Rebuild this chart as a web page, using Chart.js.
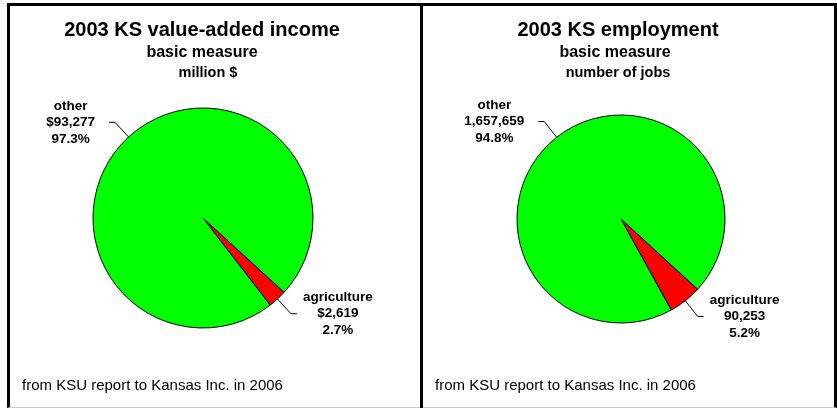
<!DOCTYPE html>
<html>
<head>
<meta charset="utf-8">
<title>2003 KS basic measure</title>
<script src="https://cdn.jsdelivr.net/npm/chart.js@4.4.0/dist/chart.umd.min.js"></script>
<style>
    html, body { margin: 0; padding: 0; background: #fff; }
    body { width: 837px; height: 408px; position: relative; overflow: hidden; }
    .frame { position: absolute; left: 7px; top: 3px; width: 824px; height: 401px; border: 3px solid #000; border-bottom: 1px solid #ccc; }
    .divider { position: absolute; left: 420px; top: 3px; width: 3px; height: 405px; background: #000; }
    canvas { position: absolute; top: 6px; }
    #incomeChart { left: 10px; }
    #jobsChart { left: 423px; }
</style>
</head>
<body>
<div class="frame"></div>
<div class="divider"></div>
<canvas id="incomeChart" width="410" height="400"></canvas>
<canvas id="jobsChart" width="411" height="400"></canvas>

<script>
// Dados (2003, Kansas)
const categories = ['agriculture', 'other'];
const incomeValues = [2619, 93277];      // million $
const jobValues = [90253, 1657659];      // number of jobs
const sliceColors = ['#ff0000', '#00ff00'];

const incomeTitles = ['2003 KS value-added income', 'basic measure', 'million $'];
const jobTitles = ['2003 KS employment', 'basic measure', 'number of jobs'];
const footerText = 'from KSU report to Kansas Inc. in 2006';

const FONT = 'Arial, "Liberation Sans", sans-serif';

// Títulos e rodapé desenhados no canvas
const panelTextPlugin = {
    id: 'panelText',
    afterDraw(chart, args, opts) {
        const ctx = chart.ctx;
        ctx.save();
        ctx.fillStyle = '#000';
        ctx.textBaseline = 'middle';
        opts.items.forEach(item => {
            ctx.font = item.font;
            ctx.textAlign = item.align || 'center';
            ctx.fillText(item.text, item.x, item.y);
        });
        ctx.restore();
    }
};

// Rótulos com linha de chamada para cada fatia
const calloutPlugin = {
    id: 'callouts',
    afterDatasetsDraw(chart, args, opts) {
        const ctx = chart.ctx;
        const meta = chart.getDatasetMeta(0);
        const values = chart.data.datasets[0].data;
        const total = values.reduce((a, b) => a + b, 0);

        meta.data.forEach((arc, i) => {
            const p = arc.getProps(['x', 'y', 'startAngle', 'endAngle', 'outerRadius'], true);
            const mid = (p.startAngle + p.endAngle) / 2;
            const cos = Math.cos(mid);
            const sin = Math.sin(mid);
            const x0 = p.x + cos * p.outerRadius;
            const y0 = p.y + sin * p.outerRadius;
            const x1 = p.x + cos * (p.outerRadius + 20);
            const y1 = p.y + sin * (p.outerRadius + 20);
            const dir = cos >= 0 ? 1 : -1;
            const x2 = x1 + dir * 6;

            ctx.save();
            ctx.strokeStyle = '#000';
            ctx.lineWidth = 1;
            ctx.beginPath();
            ctx.moveTo(x0, y0);
            ctx.lineTo(x1, y1);
            ctx.lineTo(x2, y1);
            ctx.stroke();

            const lines = [
                chart.data.labels[i],
                opts.prefix + values[i].toLocaleString('en-US'),
                (values[i] / total * 100).toFixed(1) + '%'
            ];
            ctx.font = 'bold 13.5px ' + FONT;
            const w = Math.max(...lines.map(t => ctx.measureText(t).width));
            const cx = dir > 0 ? x2 + 6 + w / 2 : x2 - 14 - w / 2;
            ctx.fillStyle = '#000';
            ctx.textAlign = 'center';
            ctx.textBaseline = 'middle';
            lines.forEach((t, k) => ctx.fillText(t, cx, y1 + (k - 1) * 16.5));
            ctx.restore();
        });
    }
};

function createPie(canvasId, values, titles, prefix, padding, textX) {
    const ctx = document.getElementById(canvasId).getContext('2d');
    return new Chart(ctx, {
        type: 'pie',
        data: {
            labels: categories,
            datasets: [{
                data: values,
                backgroundColor: sliceColors,
                borderColor: '#000',
                borderWidth: 1
            }]
        },
        options: {
            responsive: false,
            animation: false,
            rotation: 132.5,
            layout: { padding: padding },
            plugins: {
                legend: { display: false },
                tooltip: { enabled: false },
                callouts: { prefix: prefix },
                panelText: {
                    items: [
                        { text: titles[0], x: textX[0], y: 24, font: 'bold 20px ' + FONT },
                        { text: titles[1], x: textX[1], y: 47, font: 'bold 16px ' + FONT },
                        { text: titles[2], x: textX[2], y: 67, font: 'bold 14.5px ' + FONT },
                        { text: footerText, x: 12, y: 380, font: '15px ' + FONT, align: 'left' }
                    ]
                }
            }
        },
        plugins: [calloutPlugin, panelTextPlugin]
    });
}

createPie('incomeChart', incomeValues, incomeTitles, '$',
    { left: 82.5, top: 101.5, right: 106.5, bottom: 77.5 }, [192, 192, 198]);
createPie('jobsChart', jobValues, jobTitles, '',
    { left: 93.5, top: 108.5, right: 108.5, bottom: 82.5 }, [195, 192, 195]);
</script>
</body>
</html>
